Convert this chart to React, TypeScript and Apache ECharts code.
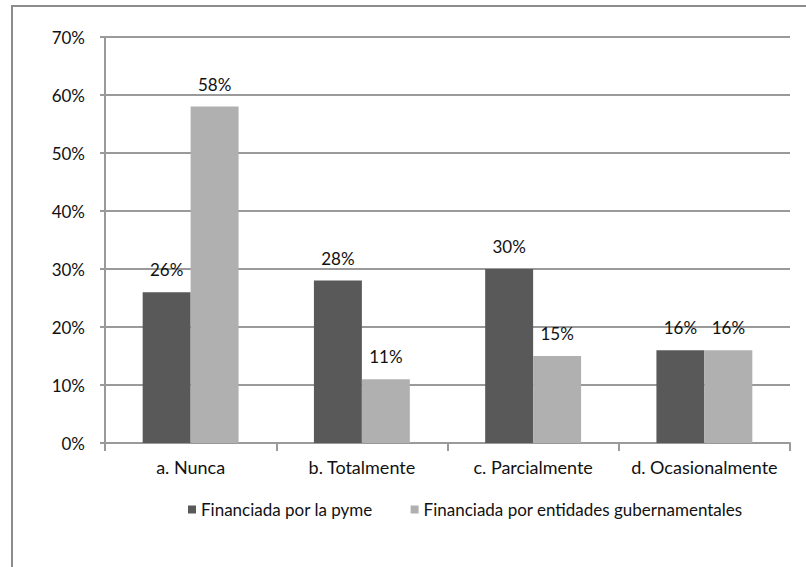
import React, { useEffect, useRef } from "react";
import * as echarts from "echarts";

const categories = ["a. Nunca", "b. Totalmente", "c. Parcialmente", "d. Ocasionalmente"];
const seriesNames = ["Financiada por la pyme", "Financiada por entidades gubernamentales"];
const pymeValues = [26, 28, 30, 16];
const gobValues = [58, 11, 15, 16];
const yTicks = { min: 0, max: 70, interval: 10 };

const FONT = "Lato, 'Open Sans', sans-serif";

export default function App() {
  const ref = useRef<HTMLDivElement>(null);
  useEffect(() => {
    if (!ref.current) return;
    const chart = echarts.init(ref.current, null, { renderer: "svg" });
    const label = {
      show: true,
      position: "top" as const,
      distance: 14,
      formatter: (p: any) => `${p.value}%`,
      color: "#111",
      fontSize: 17,
      fontFamily: FONT,
    };
    chart.setOption({
      animation: false,
      textStyle: { fontFamily: FONT },
      graphic: [
        {
          type: "rect",
          shape: { x: 12, y: 6, width: 900, height: 900 },
          style: { fill: "none", stroke: "#8c8c8c", lineWidth: 2 },
        },
      ],
      grid: { left: 105, top: 37, right: 16, bottom: 124 },
      legend: {
        data: seriesNames,
        left: 183,
        top: 496,
        itemWidth: 8,
        itemHeight: 8,
        itemGap: 38,
        icon: "rect",
        textStyle: { fontSize: 17, color: "#111", fontFamily: FONT },
      },
      xAxis: {
        type: "category",
        data: categories,
        axisLine: { lineStyle: { color: "#9a9a9a", width: 2 } },
        axisTick: { show: true, length: 8, lineStyle: { color: "#9a9a9a", width: 2 } },
        axisLabel: { fontSize: 18, color: "#111", margin: 15, fontFamily: FONT, interval: 0 },
      },
      yAxis: {
        type: "value",
        min: yTicks.min,
        max: yTicks.max,
        interval: yTicks.interval,
        axisLine: { show: true, lineStyle: { color: "#9a9a9a", width: 2 } },
        axisTick: { show: true, length: 5, lineStyle: { color: "#9a9a9a", width: 2 } },
        splitLine: { lineStyle: { color: "#9a9a9a", width: 2 } },
        axisLabel: { formatter: "{value}%", fontSize: 17, color: "#111", margin: 20, fontFamily: FONT },
      },
      series: [
        {
          name: seriesNames[0],
          type: "bar",
          data: pymeValues,
          barGap: "0%",
          barCategoryGap: "44%",
          itemStyle: { color: "#595959" },
          label,
        },
        {
          name: seriesNames[1],
          type: "bar",
          data: gobValues,
          itemStyle: { color: "#b0b0b0" },
          label,
        },
      ],
    });
    return () => chart.dispose();
  }, []);
  return <div ref={ref} style={{ position: "fixed", left: 0, top: 0, width: 806, height: 567, background: "#fff" }} />;
}
